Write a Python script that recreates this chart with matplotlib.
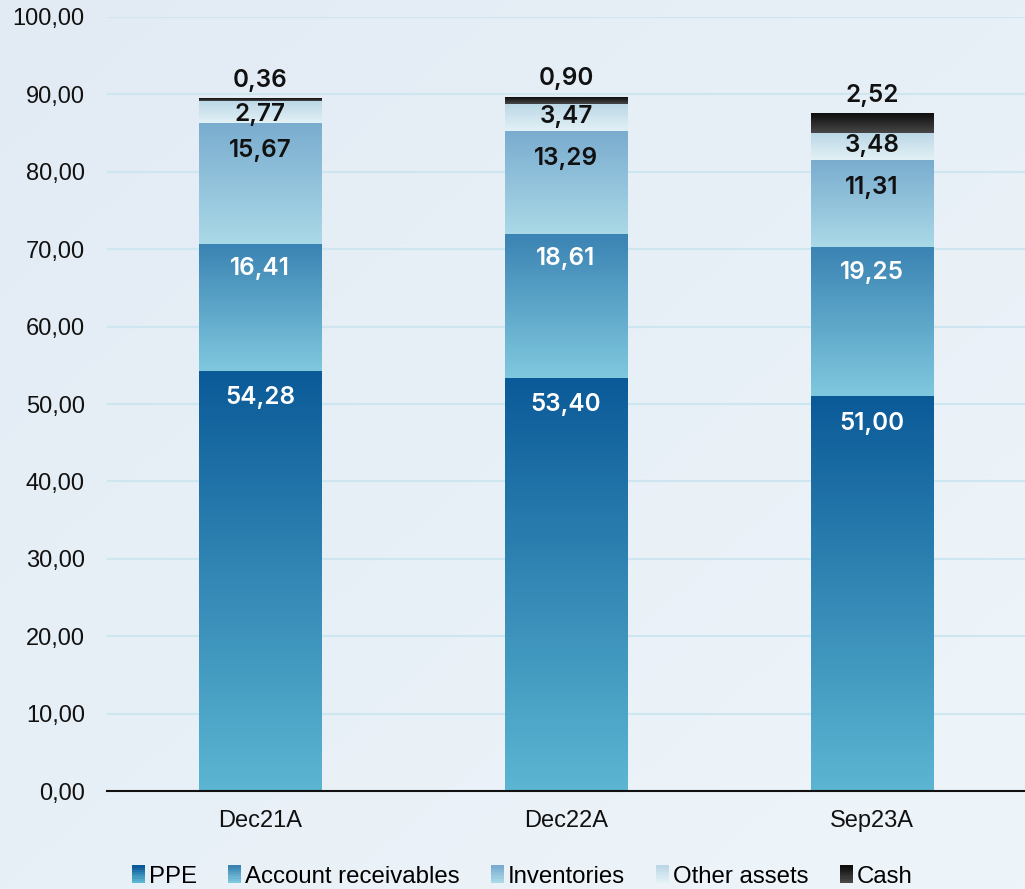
import matplotlib.pyplot as plt
import numpy as np
from matplotlib.colors import LinearSegmentedColormap
from matplotlib.patches import Rectangle
from matplotlib.legend_handler import HandlerBase

categories = ['Dec21A', 'Dec22A', 'Sep23A']
series_names = ['PPE', 'Account receivables', 'Inventories', 'Other assets', 'Cash']
ppe = [54.28, 53.40, 51.00]
receivables = [16.41, 18.61, 19.25]
inventories = [15.67, 13.29, 11.31]
other_assets = [2.77, 3.47, 3.48]
cash = [0.36, 0.90, 2.52]
series = [ppe, receivables, inventories, other_assets, cash]

# gradient colours (top, bottom) per series
grads = [('#0a5a98', '#5cb6d2'),
         ('#3a83b3', '#80c8de'),
         ('#7aaccf', '#aad9e7'),
         ('#bcd8e6', '#e2f1f6'),
         ('#0e0e0e', '#474747')]
label_colors = ['white', 'white', '#111111', '#111111', '#111111']
# label offsets in px from the segment top (negative = inside)
label_offsets = [-27, -25, -28, -13, 18]


class GradHandler(HandlerBase):
    # little gradient square for the legend
    def create_artists(self, legend, orig_handle, xdescent, ydescent, width, height, fontsize, trans):
        cmap = orig_handle.cmap
        n = 8
        arts = []
        for k in range(n):
            r = Rectangle((-xdescent, -ydescent + height * k / n), width, height / n + 0.2,
                          facecolor=cmap(k / (n - 1)), edgecolor='none', transform=trans)
            arts.append(r)
        return arts


plt.rcParams['font.family'] = ['Liberation Sans', 'DejaVu Sans']

fig = plt.figure(figsize=(10.25, 8.89), dpi=100)

# background gradient
bg = fig.add_axes([0, 0, 1, 1], zorder=-10)
gx, gy = np.meshgrid(np.linspace(0, 1, 200), np.linspace(0, 1, 200))
bgmap = LinearSegmentedColormap.from_list('bg', ['#e2ebf4', '#eef5fa'])
bg.imshow((gx + gy) / 2, cmap=bgmap, aspect='auto', extent=(0, 1, 0, 1), origin='upper')
bg.axis('off')

ax = fig.add_axes([0.1044, 0.1102, 0.8956, 0.8707])
ax.patch.set_alpha(0)
x = np.arange(len(categories))
bottom = np.zeros(len(categories))
grad_img = np.linspace(1, 0, 256).reshape(-1, 1)
handles = []
for i, (name, vals) in enumerate(zip(series_names, series)):
    bars = ax.bar(x, vals, width=0.4, bottom=bottom, color='none', zorder=2)
    cmap = LinearSegmentedColormap.from_list(name, [grads[i][1], grads[i][0]])
    for b in bars:
        ax.imshow(grad_img, cmap=cmap, aspect='auto', zorder=2,
                  extent=(b.get_x(), b.get_x() + b.get_width(), b.get_y(), b.get_y() + b.get_height()))
    for j, b in enumerate(bars):
        top = b.get_y() + b.get_height()
        ax.annotate(f'{vals[j]:.2f}'.replace('.', ','), (b.get_x() + b.get_width() / 2, top),
                    xytext=(0, label_offsets[i] * 0.72), textcoords='offset points',
                    ha='center', va='center', fontsize=17.5, fontweight='semibold',
                    family=['Inter', 'DejaVu Sans'], color=label_colors[i], zorder=5)
    bottom = bottom + np.array(vals)
    h = Rectangle((0, 0), 1, 1, facecolor=grads[i][0])
    h.cmap = cmap
    handles.append(h)

ax.set_xlim(-0.5, len(categories) - 0.5)
ax.set_ylim(0, 100)
ax.set_yticks(np.arange(0, 101, 10))
ax.set_yticklabels([f'{v:.2f}'.replace('.', ',') for v in np.arange(0, 101, 10)])
ax.set_xticks(x)
ax.set_xticklabels(categories)
ax.tick_params(axis='both', length=0, labelsize=17, colors='#111111')
ax.tick_params(axis='y', pad=16)
ax.tick_params(axis='x', pad=14)
ax.grid(axis='y', color='#cde6f0', linewidth=1.5, zorder=0)
ax.set_axisbelow(True)
for s in ['left', 'right', 'top']:
    ax.spines[s].set_visible(False)
ax.spines['bottom'].set_color('#111111')
ax.spines['bottom'].set_linewidth(1.5)
ax.spines['bottom'].set_zorder(3)

fig.legend(handles, series_names, loc='center', bbox_to_anchor=(0.5095, 0.014),
           ncol=5, frameon=False, fontsize=17.3, handlelength=0.54, handleheight=0.75,
           handletextpad=0.17, columnspacing=1.29,
           handler_map={Rectangle: GradHandler()})

fig.savefig('out.png', dpi=100)
